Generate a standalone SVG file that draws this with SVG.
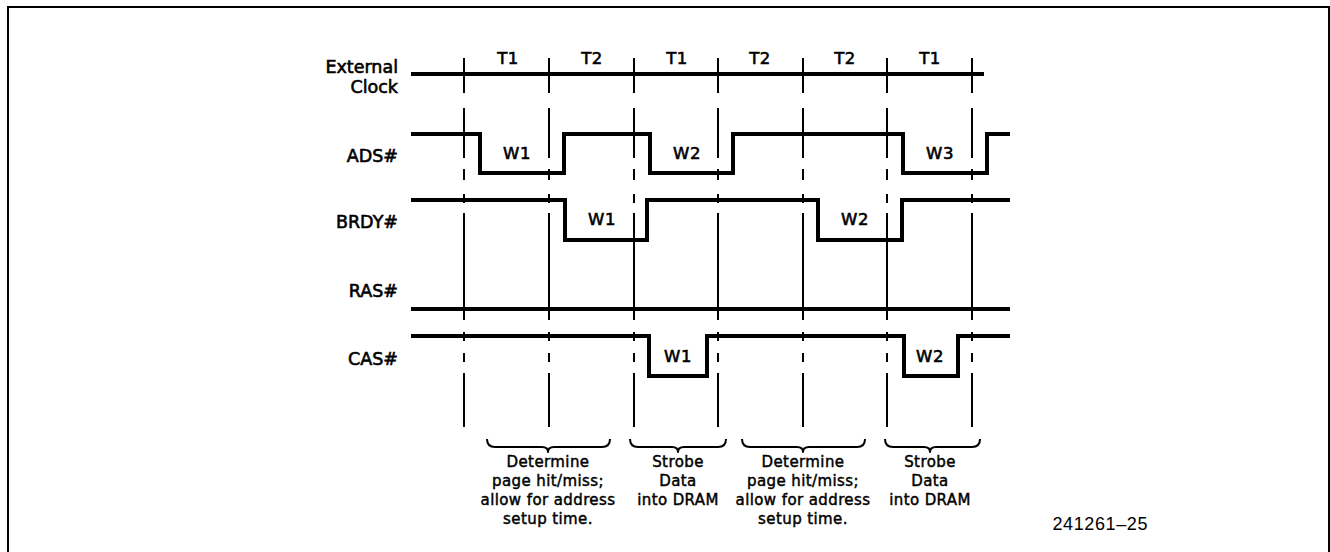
<svg xmlns="http://www.w3.org/2000/svg" width="1330" height="552" viewBox="0 0 1330 552">
<style>
.wave{fill:none;stroke:#000;stroke-width:4;stroke-linejoin:miter;stroke-linecap:square}
.grid{fill:none;stroke:#000;stroke-width:2}
.brace{fill:none;stroke:#000;stroke-width:2;stroke-linejoin:round}
.lbl{font-family:"DejaVu Sans",sans-serif;font-size:17.5px;fill:#000;stroke:#000;stroke-width:0.6px;text-anchor:end}
.t{font-family:"DejaVu Sans",sans-serif;font-size:16.5px;fill:#000;stroke:#000;stroke-width:0.6px;text-anchor:middle;letter-spacing:0.5px}
.note{font-family:"DejaVu Sans",sans-serif;font-size:15px;fill:#000;stroke:#000;stroke-width:0.45px;text-anchor:middle;letter-spacing:0.4px}
.fig{font-family:"Liberation Sans",sans-serif;font-size:18px;fill:#000;text-anchor:end;letter-spacing:0.6px}
</style>
<defs>
<path id="vl" d="M0,58V93M0,108V158M0,169V180M0,194V203M0,213V320M0,332V341M0,353V362M0,373V427"/>
</defs>
<rect x="0" y="0" width="1330" height="552" fill="#fff"/>
<path d="M8,600V7H1329V600" fill="none" stroke="#000" stroke-width="2"/>

<g id="labels">
<text class="lbl" x="398" y="73">External</text>
<text class="lbl" x="398" y="93">Clock</text>
<text class="lbl" x="398" y="162">ADS#</text>
<text class="lbl" x="398" y="228">BRDY#</text>
<text class="lbl" x="398" y="297">RAS#</text>
<text class="lbl" x="398" y="365">CAS#</text>
</g>

<g id="states">
<text class="t" x="508" y="64">T1</text>
<text class="t" x="592" y="64">T2</text>
<text class="t" x="677" y="64">T1</text>
<text class="t" x="760" y="64">T2</text>
<text class="t" x="845" y="64">T2</text>
<text class="t" x="930" y="64">T1</text>
</g>

<g id="gridlines">
<use href="#vl" class="grid" x="464"/>
<use href="#vl" class="grid" x="549"/>
<use href="#vl" class="grid" x="634"/>
<use href="#vl" class="grid" x="718"/>
<use href="#vl" class="grid" x="803"/>
<use href="#vl" class="grid" x="887"/>
<use href="#vl" class="grid" x="972"/>
</g>

<g id="clock">
<path class="wave" d="M413,74H982"/>
</g>
<g id="ads">
<path class="wave" d="M413,134H480V173H564V134H650V173H733V134H903V173H987V134H1008"/>
<text class="t" x="517" y="159">W1</text>
<text class="t" x="687" y="159">W2</text>
<text class="t" x="940" y="159">W3</text>
</g>
<g id="brdy">
<path class="wave" d="M413,200H565V240H647V200H818V240H902V200H1008"/>
<text class="t" x="602" y="225">W1</text>
<text class="t" x="855" y="225">W2</text>
</g>
<g id="ras">
<path class="wave" d="M413,309H1008"/>
</g>
<g id="cas">
<path class="wave" d="M413,336H649V376H707V336H904V376H958V336H1008"/>
<text class="t" x="678" y="362">W1</text>
<text class="t" x="930" y="362">W2</text>
</g>

<g id="braces">
<path class="brace" d="M487,439Q487,447 495,447H542Q548,447 548,452Q548,447 554,447H602Q610,447 610,439"/>
<path class="brace" d="M630,439Q630,447 638,447H672Q678,447 678,452Q678,447 684,447H718Q726,447 726,439"/>
<path class="brace" d="M742,439Q742,447 750,447H797Q803,447 803,452Q803,447 809,447H857Q865,447 865,439"/>
<path class="brace" d="M885,439Q885,447 893,447H924Q930,447 930,452Q930,447 936,447H972Q980,447 980,439"/>
</g>

<g id="note1">
<text class="note" x="548" y="467">Determine</text>
<text class="note" x="548" y="486">page hit/miss;</text>
<text class="note" x="548" y="505">allow for address</text>
<text class="note" x="548" y="524">setup time.</text>
</g>
<g id="note2">
<text class="note" x="678" y="467">Strobe</text>
<text class="note" x="678" y="486">Data</text>
<text class="note" x="678" y="505">into DRAM</text>
</g>
<g id="note3">
<text class="note" x="803" y="467">Determine</text>
<text class="note" x="803" y="486">page hit/miss;</text>
<text class="note" x="803" y="505">allow for address</text>
<text class="note" x="803" y="524">setup time.</text>
</g>
<g id="note4">
<text class="note" x="930" y="467">Strobe</text>
<text class="note" x="930" y="486">Data</text>
<text class="note" x="930" y="505">into DRAM</text>
</g>

<text class="fig" x="1148" y="530">241261–25</text>
</svg>
